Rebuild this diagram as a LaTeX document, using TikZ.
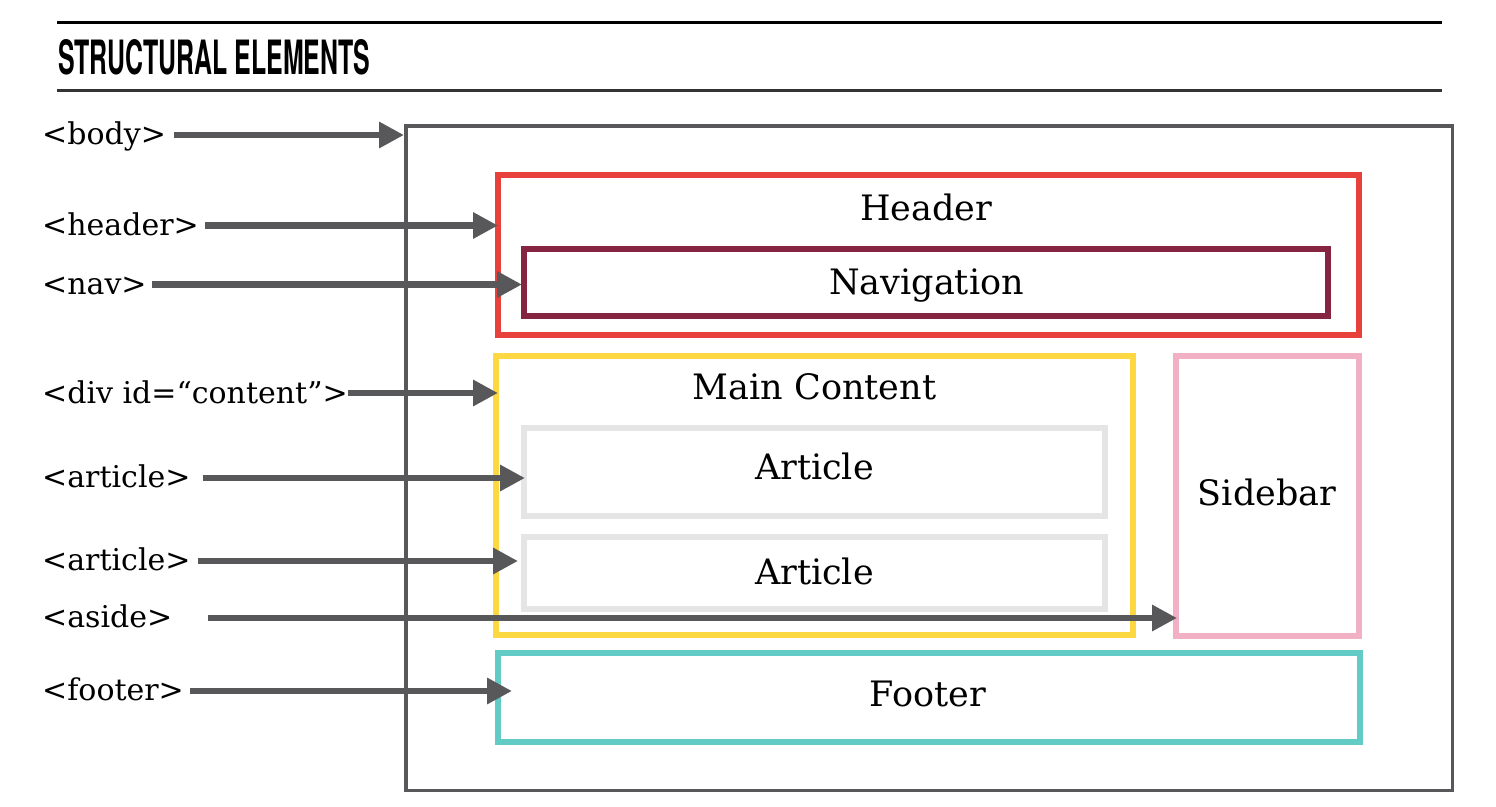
\documentclass[tikz,border=0pt]{standalone}
\usepackage{fontspec}
\setmainfont{DejaVu Serif}
\newfontfamily\titlefont{TeX Gyre Heros}
\usetikzlibrary{arrows.meta}
\definecolor{arrgray}{HTML}{58585A}
\definecolor{hdrred}{HTML}{E8403A}
\definecolor{navred}{HTML}{862541}
\definecolor{mainyel}{HTML}{FDD843}
\definecolor{artgray}{HTML}{E5E5E5}
\definecolor{sidepink}{HTML}{F2B0C5}
\definecolor{footteal}{HTML}{63CBC5}
\definecolor{rulegray}{HTML}{333333}
\tikzset{
  box/.style={draw, rectangle, inner sep=0pt, anchor=north west},
  lbl/.style={anchor=base west, inner sep=0pt, font=\fontsize{30}{33}\selectfont},
  boxtext/.style={anchor=base, inner sep=0pt, font=\fontsize{35}{40}\selectfont},
  arr/.style={draw=arrgray, line width=6.5pt, -{Triangle[length=25pt,width=25pt]}, arrgray}
}
\begin{document}
\begin{tikzpicture}[x=1pt,y=-1pt]
\useasboundingbox (0,0) rectangle (1496,806);
% rules and title
\coordinate (r1a) at (57,22.5);
\coordinate (r1b) at (1442,22.5);
\coordinate (r2a) at (57,90.5);
\coordinate (r2b) at (1442,90.5);
\draw[line width=2.5pt, black] (r1a) -- (r1b);
\draw[line width=2.5pt, rulegray] (r2a) -- (r2b);
\node[anchor=south west, inner sep=0pt] (title) at (58,75)
  {\resizebox{312pt}{35pt}{\titlefont\bfseries STRUCTURAL ELEMENTS}};
% boxes (outer edges)
\node[box, draw=arrgray, line width=3.5pt, minimum width=1046.5pt, minimum height=664.5pt] (body) at (404,124) {};
\node[box, draw=hdrred, line width=6pt, minimum width=861pt, minimum height=160pt] (header) at (495,172) {};
\node[box, draw=navred, line width=6pt, minimum width=804pt, minimum height=67pt] (nav) at (521,246) {};
\node[box, draw=mainyel, line width=6pt, minimum width=637pt, minimum height=279pt] (main) at (493,353) {};
\node[box, draw=artgray, line width=6pt, minimum width=581pt, minimum height=88pt] (art1) at (521,425) {};
\node[box, draw=artgray, line width=6pt, minimum width=581pt, minimum height=72pt] (art2) at (521,534) {};
\node[box, draw=sidepink, line width=6pt, minimum width=183pt, minimum height=280pt] (side) at (1173,353) {};
\node[box, draw=footteal, line width=6pt, minimum width=862pt, minimum height=89pt] (foot) at (495,650) {};
% box texts
\node[boxtext] (theader) at (926,220) {Header};
\node[boxtext] (tnav) at (926.5,294) {Navigation};
\node[boxtext] (tmain) at (814.5,399) {Main Content};
\node[boxtext] (tart1) at (814.5,479) {Article};
\node[boxtext] (tart2) at (814.5,584) {Article};
\node[boxtext] (tside) at (1267,505) {Sidebar};
\node[boxtext] (tfoot) at (928,706) {Footer};
% labels
\node[lbl] (lbody) at (42,144) {<body>};
\node[lbl] (lheader) at (42,235) {<header>};
\node[lbl] (lnav) at (42,294) {<nav>};
\node[lbl] (ldiv) at (42,403) {<div id=“content”>};
\node[lbl] (lart1) at (42,487) {<article>};
\node[lbl] (lart2) at (42,570) {<article>};
\node[lbl] (laside) at (42,627) {<aside>};
\node[lbl] (lfoot) at (42,700) {<footer>};
% arrow start points
\coordinate (sbody) at (174,135);
\coordinate (sheader) at (205,225.5);
\coordinate (snav) at (152,284.5);
\coordinate (sdiv) at (348,393);
\coordinate (sart1) at (203,478);
\coordinate (sart2) at (198,561);
\coordinate (saside) at (208,618);
\coordinate (sfoot) at (190,691);
% arrows
\draw[arr] (sbody) -- (sbody -| body.west);
\draw[arr] (sheader) -- ([xshift=3pt]sheader -| header.west);
\draw[arr] (snav) -- ([xshift=1pt]snav -| nav.west);
\draw[arr] (sdiv) -- ([xshift=5pt]sdiv -| main.west);
\draw[arr] (sart1) -- ([xshift=4pt]sart1 -| art1.west);
\draw[arr] (sart2) -- ([xshift=-3pt]sart2 -| art2.west);
\draw[arr] (saside) -- ([xshift=4pt]saside -| side.west);
\draw[arr] (sfoot) -- ([xshift=17pt]sfoot -| foot.west);
\end{tikzpicture}
\end{document}
